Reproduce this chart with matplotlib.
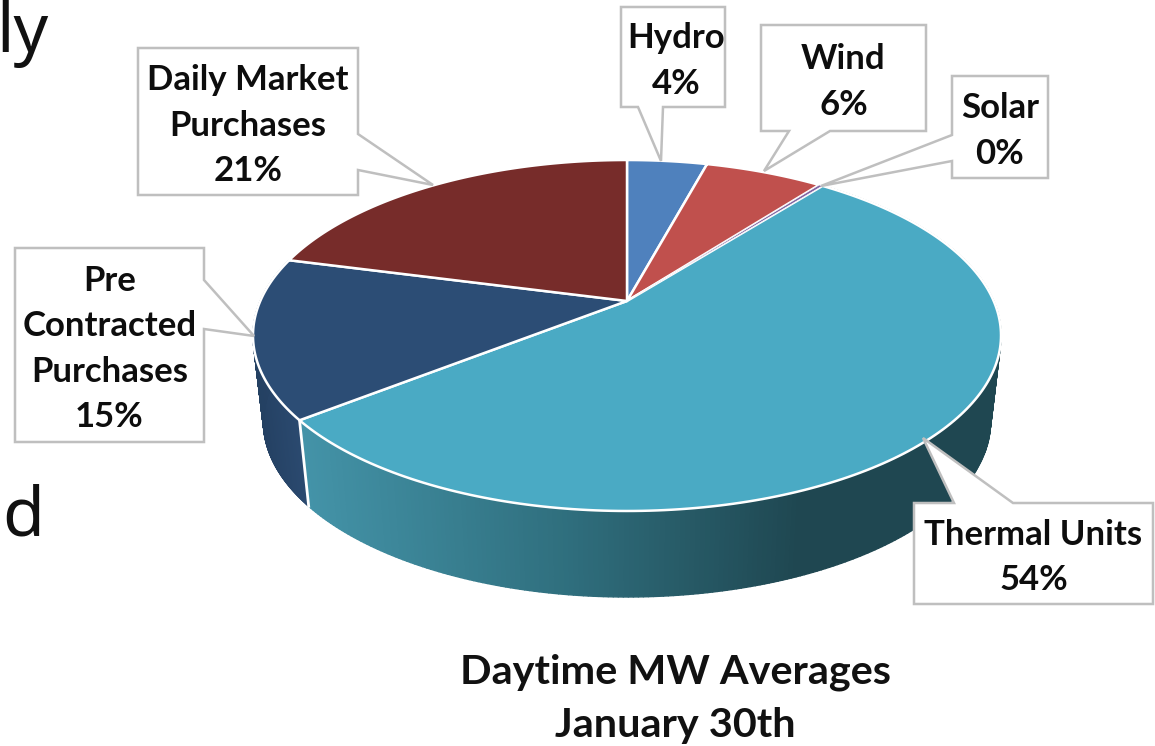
import numpy as np
import matplotlib
matplotlib.use("Agg")
import matplotlib.pyplot as plt
from matplotlib.collections import PolyCollection
from matplotlib.colors import to_rgb
from matplotlib.patches import Polygon

plt.rcParams['font.family'] = ['Lato', 'DejaVu Sans']

# Daytime MW shares, clockwise from twelve o'clock
sources = ['Hydro', 'Wind', 'Solar', 'Thermal Units', 'Pre\nContracted\nPurchases', 'Daily Market\nPurchases']
shares = [4.2, 6.2, 0.2, 54.0, 14.8, 21]
title_lines = ['Daytime MW Averages', 'January 30th']

top_colors = ['#4f81bd', '#c0504d', '#8064a2', '#4aaac4', '#2c4d75', '#772c2a']

# pie projection, in pixels
CX, CY = 627, 301
BX, BY, PERSP = 366.7, 168.7, 0.1966
DEPTH, BOTTOM_SCALE = 86, 0.972

# side wall shading: (x pixel, colour) stops per slice index
wall_stops = {
    3: [(300, '#4494a9'), (560, '#30707f'), (800, '#1f4751'), (1005, '#1f4751')],
    4: [(250, '#233f60'), (305, '#2b4a70')],
}

# callouts: box (left, top, right, bottom), side the pointer leaves from,
# the two pointer base positions along that side, pointer tip
callouts = [
    ((621, 7, 725, 107), 'bottom', 663, 638, (661, 161)),
    ((761, 25, 926, 131), 'bottom', 830, 789, (764, 171)),
    ((952, 76, 1048, 178), 'left', 161, 135, (821, 186)),
    ((914, 503, 1153, 604), 'top', 954, 1013, (923, 438)),
    ((15, 248, 204, 442), 'right', 280, 329, (254, 336)),
    ((138, 48, 358, 195), 'right', 134, 170, (433, 185)),
]
label_dx = [3, 0, 0, 0, 0, 0]


def project(theta, bottom=False):
    # perspective view of the unit disc; theta runs clockwise from the top
    X, Y = np.sin(theta), -np.cos(theta)
    w = 1 - PERSP * Y
    x, y = BX * X / w, BY * Y / w
    if bottom:
        return CX + x * BOTTOM_SCALE, CY + y + DEPTH
    return CX + x, CY + y


def wall_color(x, stops):
    xs = [s[0] for s in stops]
    rgb = np.array([to_rgb(s[1]) for s in stops])
    return [np.interp(x, xs, rgb[:, i]) for i in range(3)]


def callout_vertices(box, side, a, b, tip):
    l, t, r, bt = box
    if side == 'bottom':
        return [(l, t), (r, t), (r, bt), (a, bt), tip, (b, bt), (l, bt)]
    if side == 'top':
        return [(l, t), (a, t), tip, (b, t), (r, t), (r, bt), (l, bt)]
    if side == 'left':
        return [(l, t), (r, t), (r, bt), (l, bt), (l, a), tip, (l, b)]
    return [(l, t), (r, t), (r, a), tip, (r, b), (r, bt), (l, bt)]


W, H = 1155, 746
fig = plt.figure(figsize=(W / 100, H / 100), dpi=100)
ax = fig.add_axes([0, 0, 1, 1])
ax.set_xlim(0, W)
ax.set_ylim(H, 0)
ax.axis('off')

total = sum(shares)
edges = 2 * np.pi * np.cumsum([0] + shares) / total

# side walls as thin vertical strips
for i, stops in wall_stops.items():
    th = np.linspace(edges[i], edges[i + 1], 300)
    tx, ty = project(th)
    bx, by = project(th, bottom=True)
    quads = []
    colors = []
    for j in range(len(th) - 1):
        quads.append([(tx[j], ty[j]), (tx[j + 1], ty[j + 1]), (bx[j + 1], by[j + 1]), (bx[j], by[j])])
        colors.append(wall_color((tx[j] + bx[j]) / 2, stops))
    ax.add_collection(PolyCollection(quads, facecolors=colors, edgecolors='face', linewidths=1.0, zorder=1))

# white seam between the two visible walls
sx0, sy0 = project(edges[4])
sx1, sy1 = project(edges[4], bottom=True)
ax.plot([sx0, sx1], [sy0, sy1], color='white', lw=2, zorder=2)

# top face; the sliver for solar only gets a hairline edge
for i, color in enumerate(top_colors):
    th = np.linspace(edges[i], edges[i + 1], 200)
    x, y = project(th)
    pts = np.column_stack([np.r_[CX, x], np.r_[CY, y]])
    edge_lw = 0.5 if i == 2 else 1.8
    ax.add_patch(Polygon(pts, closed=True, facecolor=color, edgecolor='white', lw=edge_lw,
                         joinstyle='round', zorder=3.5 if i == 2 else 3))

# callouts
for box, side, a, b, tip in callouts:
    ax.add_patch(Polygon(callout_vertices(box, side, a, b, tip), closed=True, facecolor='white',
                         edgecolor='#bfbfbf', lw=1.8, joinstyle='miter', zorder=4))

for callout, name, share, dx in zip(callouts, sources, shares, label_dx):
    box = callout[0]
    label = f'{name}\n{share:.0f}%'
    ax.text((box[0] + box[2]) / 2 + dx, (box[1] + box[3]) / 2 + 4, label, ha='center', va='center', fontsize=25,
            fontweight='bold', color='#0d0d0d', linespacing=1.52, zorder=5)

# chart title
for line, y in zip(title_lines, [672, 725]):
    ax.text(675, y, line, ha='center', va='center', fontsize=29.8, fontweight='bold', color='#111111')

# ends of the slide text running behind the chart
ax.text(49, 52, 'ly', ha='right', va='baseline', fontsize=49, color='#111111', family='Noto Sans')
ax.text(45, 535, 'nd', ha='right', va='baseline', fontsize=49, color='#111111', family='Noto Sans')

fig.savefig('out.png', dpi=100)
